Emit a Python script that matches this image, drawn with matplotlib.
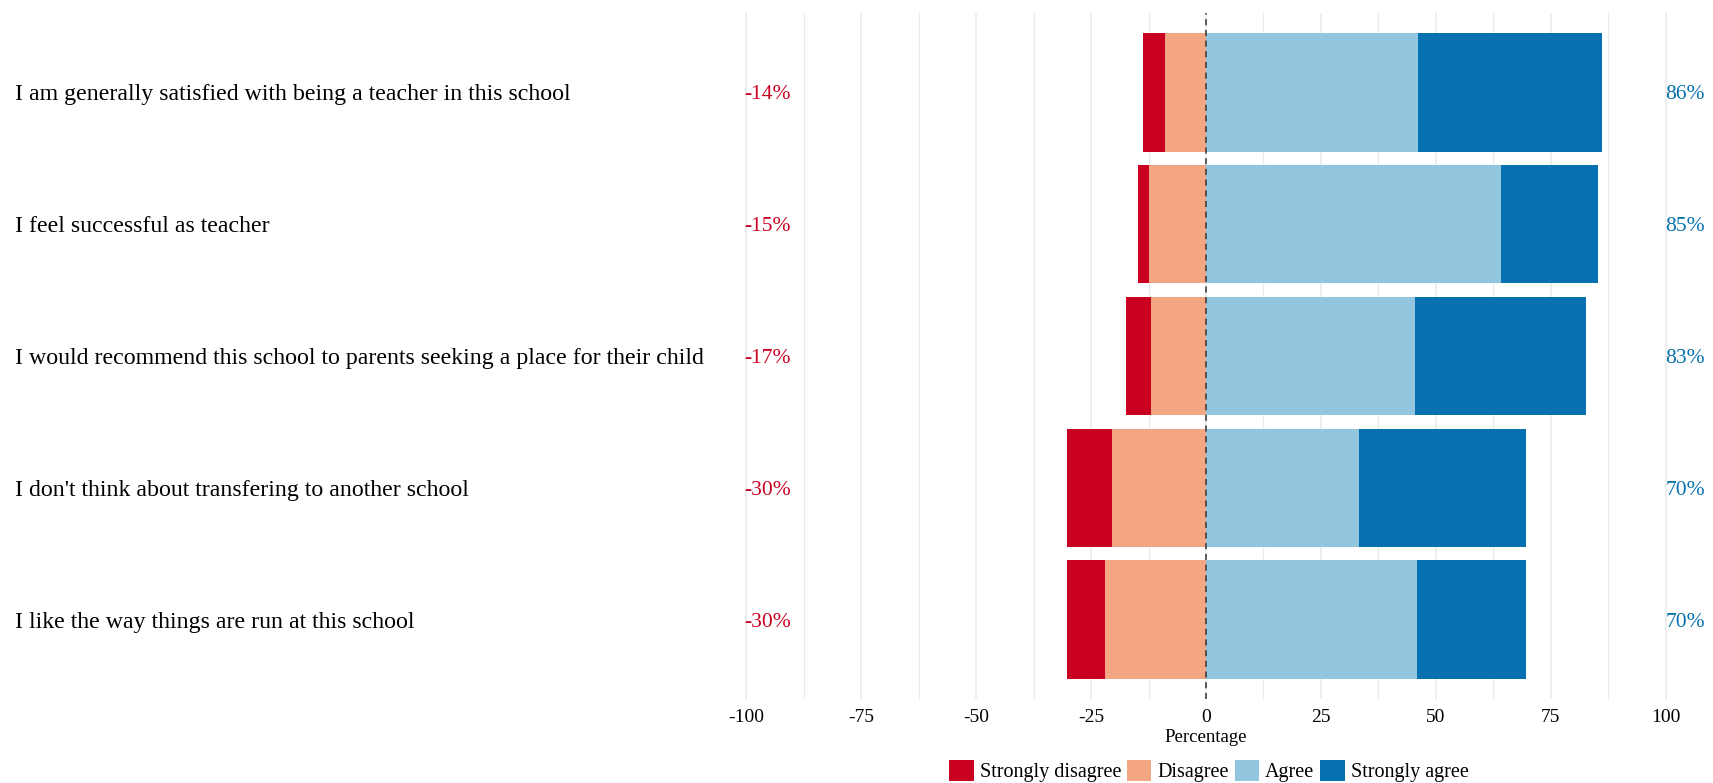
import matplotlib.pyplot as plt
import matplotlib.transforms as mtransforms
from matplotlib.ticker import MultipleLocator
from matplotlib.patches import Patch

plt.rcParams['font.family'] = ['Liberation Serif', 'DejaVu Serif']

items = [
    "I am generally satisfied with being a teacher in this school",
    "I feel successful as teacher",
    "I would recommend this school to parents seeking a place for their child",
    "I don't think about transfering to another school",
    "I like the way things are run at this school",
]
strongly_disagree = [4.9, 2.4, 5.4, 9.8, 8.3]
disagree = [8.9, 12.4, 12.0, 20.5, 22.0]
agree = [46.1, 64.2, 45.5, 33.3, 45.9]
strongly_agree = [40.1, 21.0, 37.1, 36.4, 23.8]
neg_labels = ["-14%", "-15%", "-17%", "-30%", "-30%"]
pos_labels = ["86%", "85%", "83%", "70%", "70%"]

levels = ["Strongly disagree", "Disagree", "Agree", "Strongly agree"]
colors = ["#CA0020", "#F4A582", "#92C5DE", "#0571B0"]

W, H = 1713, 783
fig = plt.figure(figsize=(W / 100, H / 100), dpi=100)
# zero at x=1206 px, 4.595 px per percent; xlim -105..105
ax = fig.add_axes([723.5 / W, 84 / H, 965 / W, 686 / H])

ypos = list(range(len(items)))
h = 0.9
# negative side
sd_left = [-(a + b) for a, b in zip(strongly_disagree, disagree)]
ax.barh(ypos, strongly_disagree, left=sd_left, height=h, color=colors[0], zorder=2)
ax.barh(ypos, disagree, left=[-d for d in disagree], height=h, color=colors[1], zorder=2)
# positive side
ax.barh(ypos, agree, left=0, height=h, color=colors[2], zorder=2)
ax.barh(ypos, strongly_agree, left=agree, height=h, color=colors[3], zorder=2)

ax.axvline(0, color='#333333', linestyle=(0, (4, 3)), linewidth=1.1, zorder=3)

ax.set_xlim(-105, 105)
ax.set_ylim(len(items) - 0.4, -0.6)
ax.xaxis.set_minor_locator(MultipleLocator(12.5))
ax.set_xticks([-100, -75, -50, -25, 0, 25, 50, 75, 100])
ax.set_xticklabels(['-100', '-75', '-50', '-25', '0', '25', '50', '75', '100'], fontsize=14)
ax.grid(axis='x', which='major', color='#EBEBEB', linewidth=1.2, zorder=0)
ax.grid(axis='x', which='minor', color='#EBEBEB', linewidth=0.8, zorder=0)
ax.tick_params(axis='x', which='both', length=0, pad=7)
ax.set_yticks([])
for s in ax.spines.values():
    s.set_visible(False)
ax.set_xlabel('Percentage', fontsize=13.5, labelpad=2)

trans = mtransforms.blended_transform_factory(fig.transFigure, ax.transData)
for i, lab in enumerate(items):
    ax.text(15 / W, i + 0.02, lab, transform=trans, ha='left', va='center', fontsize=17.2)
    ax.text(-100.5, i + 0.02, neg_labels[i], ha='left', va='center', fontsize=15.5,
            color=colors[0], clip_on=False)
    ax.text(100, i + 0.02, pos_labels[i], ha='left', va='center', fontsize=15.5,
            color=colors[3], clip_on=False)

handles = [Patch(facecolor=c, label=l) for c, l in zip(colors, levels)]
fig.legend(handles=handles, loc='center', bbox_to_anchor=(1209 / W, 12 / H),
           ncol=4, frameon=False, fontsize=14.5, handlelength=1.2, handleheight=1.2,
           handletextpad=0.3, columnspacing=0.3)

fig.savefig('out.png', dpi=100)
